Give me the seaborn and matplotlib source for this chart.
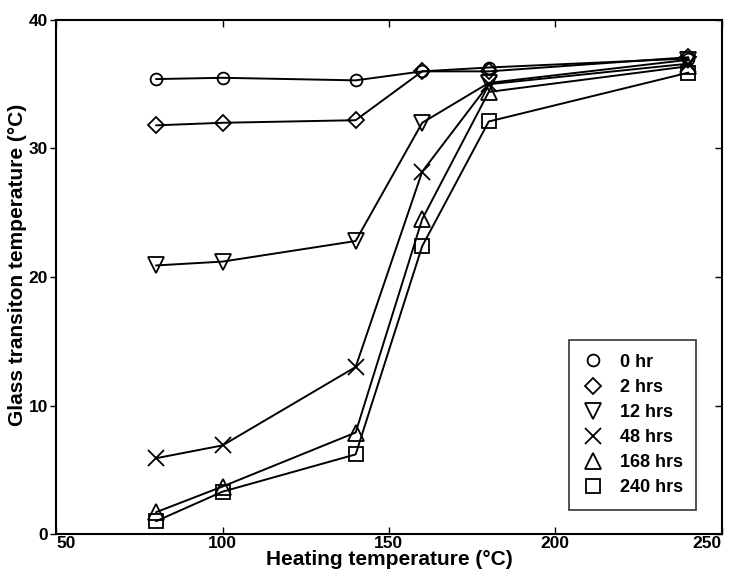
import matplotlib
matplotlib.use("Agg")
import matplotlib.pyplot as plt
from matplotlib.lines import Line2D
import pandas as pd
import seaborn as sns

heating_temp = [80, 100, 140, 160, 180, 240]
series_labels = ["0 hr", "2 hrs", "12 hrs", "48 hrs", "168 hrs", "240 hrs"]
tg_0hr = [35.4, 35.5, 35.3, 36.0, 36.3, 37.0]
tg_2hrs = [31.8, 32.0, 32.2, 36.0, 36.0, 37.1]
tg_12hrs = [20.9, 21.2, 22.8, 32.0, 35.1, 36.9]
tg_48hrs = [5.9, 6.9, 13.0, 28.2, 35.0, 36.6]
tg_168hrs = [1.7, 3.7, 7.9, 24.5, 34.4, 36.4]
tg_240hrs = [1.0, 3.3, 6.2, 22.4, 32.1, 35.9]
x_ticks = [50, 100, 150, 200, 250]
y_ticks = [0, 10, 20, 30, 40]

series_values = [tg_0hr, tg_2hrs, tg_12hrs, tg_48hrs, tg_168hrs, tg_240hrs]
markers = ["o", "D", "v", "x", "^", "s"]
marker_sizes = [8.5, 8.5, 11.5, 11.5, 11.5, 9.5]

sns.set_theme(style="ticks")
plt.rcParams["font.family"] = ["Liberation Sans", "DejaVu Sans"]
plt.rcParams["font.weight"] = "bold"
plt.rcParams["text.color"] = "black"
plt.rcParams["axes.labelcolor"] = "black"

fig = plt.figure(figsize=(7.29, 5.70), dpi=100)
ax = fig.add_axes([0.077, 0.063, 0.913, 0.902])

for label, vals, mk, ms in zip(series_labels, series_values, markers, marker_sizes):
    df = pd.DataFrame({"temp": heating_temp, "tg": vals})
    sns.lineplot(data=df, x="temp", y="tg", ax=ax, color="black",
                 linewidth=1.4, marker=mk, markersize=ms,
                 markerfacecolor="none", markeredgecolor="black",
                 markeredgewidth=1.3, legend=False)

ax.set_xlim(50, 250)
ax.set_ylim(0, 40)
ax.set_xticks(x_ticks)
ax.set_yticks(y_ticks)
ax.tick_params(axis="x", direction="in", top=True, length=5, width=1,
               labelsize=12.5, pad=1.5, colors="black")
ax.tick_params(axis="y", left=True, right=False, direction="out", length=4,
               width=1, labelsize=12.5, pad=2, colors="black")
for lab in ax.get_xticklabels() + ax.get_yticklabels():
    lab.set_fontweight("bold")
xlabels = ax.get_xticklabels()
xlabels[0].set_ha("left")
xlabels[-1].set_ha("right")
for sp in ax.spines.values():
    sp.set_linewidth(1.5)
    sp.set_color("black")

# inward ticks on the right-hand spine
ax_r = ax.twinx()
ax_r.set_ylim(ax.get_ylim())
ax_r.set_yticks(y_ticks)
ax_r.tick_params(axis="y", direction="in", length=5, width=1, labelright=False,
                 colors="black")
ax_r.grid(False)
for sp in ax_r.spines.values():
    sp.set_visible(False)

ax.set_xlabel("Heating temperature (\u00b0C)", fontsize=15, fontweight="bold",
              labelpad=-1, color="black")
ax.set_ylabel("Glass transiton temperature (\u00b0C)", fontsize=15,
              fontweight="bold", color="black")
ax.yaxis.set_label_coords(-0.044, 0.523)

handles = [Line2D([], [], linestyle="none", marker=mk, markersize=ms,
                  markerfacecolor="none", markeredgecolor="black",
                  markeredgewidth=1.3, color="black")
           for mk, ms in zip(markers, marker_sizes)]
leg = ax.legend(handles, series_labels, loc="lower right",
                bbox_to_anchor=(0.962, 0.047), frameon=True, fancybox=False,
                edgecolor="black", fontsize=13, handletextpad=0.95,
                borderpad=0.75, borderaxespad=0, labelspacing=0.45,
                handlelength=1.1)
leg.get_frame().set_linewidth(1.2)
for t in leg.get_texts():
    t.set_fontweight("bold")
    t.set_color("black")

fig.savefig("out.png", dpi=100, facecolor="white")
